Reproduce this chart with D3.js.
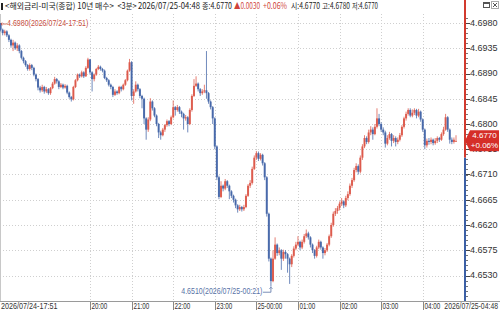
<!DOCTYPE html>
<html>
<head>
<meta charset="utf-8">
<script src="https://cdn.jsdelivr.net/npm/d3@7"></script>
<style>
  body { margin: 0; background: #fff; }
  svg { display: block; }
</style>
</head>
<body>
<svg></svg>
<script>
const width = 500;
const height = 314;

// 3-minute bars, 2026/07/24 17:51 -> 2026/07/25 04:48
const opens = [4.6980,4.6968,4.6962,4.6965,4.6958,4.6950,4.6940,4.6945,4.6935,4.6940,
  4.6930,4.6918,4.6912,4.6905,4.6898,4.6905,4.6900,4.6888,4.6880,4.6865,
  4.6860,4.6866,4.6858,4.6862,4.6855,4.6864,4.6872,4.6880,4.6876,4.6866,
  4.6870,4.6865,4.6868,4.6856,4.6848,4.6844,4.6866,4.6878,4.6888,4.6885,
  4.6892,4.6885,4.6900,4.6915,4.6892,4.6880,4.6888,4.6898,4.6902,4.6898,
  4.6895,4.6882,4.6878,4.6870,4.6866,4.6852,4.6858,4.6855,4.6866,4.6862,
  4.6870,4.6878,4.6895,4.6910,4.6850,4.6858,4.6870,4.6862,4.6850,4.6845,
  4.6810,4.6790,4.6808,4.6840,4.6828,4.6815,4.6800,4.6785,4.6780,4.6790,
  4.6798,4.6805,4.6800,4.6812,4.6830,4.6825,4.6830,4.6822,4.6818,4.6810,
  4.6812,4.6800,4.6825,4.6850,4.6868,4.6872,4.6862,4.6855,4.6858,4.6860,
  4.6855,4.6840,4.6830,4.6810,4.6760,4.6705,4.6670,4.6690,4.6685,4.6698,
  4.6690,4.6680,4.6672,4.6665,4.6655,4.6648,4.6652,4.6648,4.6652,4.6672,
  4.6690,4.6695,4.6720,4.6740,4.6748,4.6738,4.6745,4.6730,4.6705,4.6640,
  4.6560,4.6520,4.6560,4.6585,4.6570,4.6575,4.6560,4.6572,4.6568,4.6560,
  4.6550,4.6565,4.6578,4.6585,4.6590,4.6580,4.6590,4.6600,4.6605,4.6598,
  4.6585,4.6575,4.6565,4.6580,4.6590,4.6580,4.6570,4.6575,4.6585,4.6600,
  4.6620,4.6640,4.6645,4.6650,4.6658,4.6662,4.6655,4.6668,4.6675,4.6690,
  4.6700,4.6718,4.6725,4.6715,4.6740,4.6760,4.6775,4.6768,4.6785,4.6790,
  4.6782,4.6795,4.6810,4.6800,4.6790,4.6785,4.6765,4.6775,4.6782,4.6770,
  4.6775,4.6768,4.6772,4.6780,4.6795,4.6810,4.6818,4.6825,4.6815,4.6820,
  4.6825,4.6815,4.6822,4.6808,4.6790,4.6762,4.6770,4.6768,4.6772,4.6766,
  4.6770,4.6775,4.6772,4.6782,4.6790,4.6812,4.6790,4.6772,4.6768,4.6770];

const highs = [4.6980,4.6970,4.6968,4.6967,4.6960,4.6952,4.6950,4.6947,4.6944,4.6942,
  4.6932,4.6920,4.6914,4.6907,4.6908,4.6907,4.6902,4.6890,4.6882,4.6868,
  4.6870,4.6868,4.6866,4.6864,4.6866,4.6875,4.6884,4.6882,4.6878,4.6873,
  4.6872,4.6871,4.6870,4.6858,4.6850,4.6868,4.6880,4.6890,4.6890,4.6895,
  4.6894,4.6903,4.6918,4.6916,4.6894,4.6890,4.6900,4.6905,4.6904,4.6900,
  4.6897,4.6884,4.6880,4.6872,4.6868,4.6862,4.6860,4.6868,4.6868,4.6872,
  4.6880,4.6897,4.6916,4.6912,4.6862,4.6876,4.6872,4.6864,4.6852,4.6847,
  4.6812,4.6812,4.6846,4.6842,4.6830,4.6817,4.6802,4.6788,4.6793,4.6800,
  4.6808,4.6807,4.6815,4.6842,4.6832,4.6834,4.6832,4.6824,4.6820,4.6816,
  4.6814,4.6828,4.6853,4.6880,4.6885,4.6874,4.6864,4.6862,4.6870,4.6930,
  4.6857,4.6842,4.6832,4.6812,4.6762,4.6708,4.6698,4.6692,4.6702,4.6700,
  4.6692,4.6682,4.6674,4.6667,4.6657,4.6656,4.6654,4.6656,4.6675,4.6693,
  4.6700,4.6724,4.6744,4.6752,4.6751,4.6748,4.6747,4.6732,4.6707,4.6642,
  4.6562,4.6575,4.6598,4.6587,4.6580,4.6577,4.6576,4.6575,4.6570,4.6562,
  4.6568,4.6582,4.6590,4.6600,4.6592,4.6594,4.6604,4.6612,4.6608,4.6600,
  4.6587,4.6577,4.6583,4.6594,4.6592,4.6582,4.6579,4.6588,4.6603,4.6624,
  4.6644,4.6650,4.6654,4.6662,4.6668,4.6664,4.6672,4.6680,4.6694,4.6704,
  4.6722,4.6730,4.6728,4.6744,4.6764,4.6780,4.6778,4.6790,4.6796,4.6794,
  4.6800,4.6828,4.6818,4.6803,4.6794,4.6788,4.6780,4.6786,4.6784,4.6780,
  4.6778,4.6776,4.6784,4.6798,4.6813,4.6822,4.6828,4.6828,4.6826,4.6828,
  4.6827,4.6827,4.6824,4.6810,4.6792,4.6774,4.6775,4.6776,4.6774,4.6775,
  4.6778,4.6777,4.6785,4.6795,4.6818,4.6814,4.6792,4.6776,4.6776,4.6780];

const lows = [4.6965,4.6958,4.6958,4.6955,4.6946,4.6936,4.6930,4.6932,4.6930,4.6926,
  4.6915,4.6908,4.6902,4.6895,4.6895,4.6896,4.6885,4.6876,4.6860,4.6856,
  4.6857,4.6854,4.6855,4.6852,4.6852,4.6862,4.6870,4.6872,4.6862,4.6864,
  4.6862,4.6863,4.6853,4.6845,4.6840,4.6842,4.6864,4.6876,4.6882,4.6883,
  4.6882,4.6884,4.6898,4.6888,4.6858,4.6876,4.6886,4.6896,4.6895,4.6892,
  4.6880,4.6875,4.6867,4.6862,4.6848,4.6850,4.6852,4.6853,4.6858,4.6860,
  4.6868,4.6876,4.6893,4.6842,4.6836,4.6856,4.6858,4.6846,4.6828,4.6800,
  4.6772,4.6786,4.6805,4.6824,4.6812,4.6796,4.6775,4.6772,4.6778,4.6786,
  4.6795,4.6796,4.6798,4.6810,4.6815,4.6822,4.6818,4.6812,4.6790,4.6806,
  4.6785,4.6798,4.6822,4.6848,4.6866,4.6858,4.6850,4.6852,4.6855,4.6845,
  4.6836,4.6826,4.6800,4.6755,4.6700,4.6666,4.6668,4.6680,4.6682,4.6686,
  4.6666,4.6668,4.6660,4.6650,4.6642,4.6645,4.6644,4.6645,4.6650,4.6670,
  4.6686,4.6692,4.6718,4.6736,4.6734,4.6735,4.6726,4.6700,4.6635,4.6555,
  4.6510,4.6518,4.6558,4.6565,4.6566,4.6540,4.6556,4.6560,4.6535,4.6515,
  4.6545,4.6562,4.6575,4.6582,4.6575,4.6577,4.6587,4.6597,4.6594,4.6580,
  4.6570,4.6560,4.6562,4.6577,4.6576,4.6560,4.6566,4.6572,4.6582,4.6597,
  4.6617,4.6636,4.6640,4.6646,4.6654,4.6650,4.6652,4.6664,4.6672,4.6686,
  4.6697,4.6714,4.6710,4.6712,4.6736,4.6757,4.6764,4.6765,4.6780,4.6772,
  4.6780,4.6792,4.6796,4.6786,4.6780,4.6758,4.6762,4.6772,4.6760,4.6766,
  4.6760,4.6764,4.6769,4.6777,4.6792,4.6806,4.6815,4.6812,4.6812,4.6816,
  4.6810,4.6812,4.6804,4.6786,4.6755,4.6758,4.6763,4.6764,4.6762,4.6763,
  4.6766,4.6768,4.6770,4.6779,4.6788,4.6786,4.6765,4.6764,4.6765,4.6770];

const closes = [4.6968,4.6962,4.6965,4.6958,4.6950,4.6940,4.6945,4.6935,4.6940,4.6930,
  4.6918,4.6912,4.6905,4.6898,4.6905,4.6900,4.6888,4.6880,4.6865,4.6860,
  4.6866,4.6858,4.6862,4.6855,4.6864,4.6872,4.6880,4.6876,4.6866,4.6870,
  4.6865,4.6868,4.6856,4.6848,4.6844,4.6866,4.6878,4.6888,4.6885,4.6892,
  4.6885,4.6900,4.6915,4.6892,4.6880,4.6888,4.6898,4.6902,4.6898,4.6895,
  4.6882,4.6878,4.6870,4.6866,4.6852,4.6858,4.6855,4.6866,4.6862,4.6870,
  4.6878,4.6895,4.6910,4.6850,4.6858,4.6870,4.6862,4.6850,4.6845,4.6810,
  4.6790,4.6808,4.6840,4.6828,4.6815,4.6800,4.6785,4.6780,4.6790,4.6798,
  4.6805,4.6800,4.6812,4.6830,4.6825,4.6830,4.6822,4.6818,4.6810,4.6812,
  4.6800,4.6825,4.6850,4.6868,4.6872,4.6862,4.6855,4.6858,4.6860,4.6855,
  4.6840,4.6830,4.6810,4.6760,4.6705,4.6670,4.6690,4.6685,4.6698,4.6690,
  4.6680,4.6672,4.6665,4.6655,4.6648,4.6652,4.6648,4.6652,4.6672,4.6690,
  4.6695,4.6720,4.6740,4.6748,4.6738,4.6745,4.6730,4.6705,4.6640,4.6560,
  4.6520,4.6560,4.6585,4.6570,4.6575,4.6560,4.6572,4.6568,4.6560,4.6550,
  4.6565,4.6578,4.6585,4.6590,4.6580,4.6590,4.6600,4.6605,4.6598,4.6585,
  4.6575,4.6565,4.6580,4.6590,4.6580,4.6570,4.6575,4.6585,4.6600,4.6620,
  4.6640,4.6645,4.6650,4.6658,4.6662,4.6655,4.6668,4.6675,4.6690,4.6700,
  4.6718,4.6725,4.6715,4.6740,4.6760,4.6775,4.6768,4.6785,4.6790,4.6782,
  4.6795,4.6810,4.6800,4.6790,4.6785,4.6765,4.6775,4.6782,4.6770,4.6775,
  4.6768,4.6772,4.6780,4.6795,4.6810,4.6818,4.6825,4.6815,4.6820,4.6825,
  4.6815,4.6822,4.6808,4.6790,4.6762,4.6770,4.6768,4.6772,4.6766,4.6770,
  4.6775,4.6772,4.6782,4.6790,4.6812,4.6790,4.6772,4.6768,4.6772,4.6770];

const prevClose = 4.6740;
const yTicks = [4.6980, 4.6935, 4.6890, 4.6845, 4.6800, 4.6755, 4.6710, 4.6665, 4.6620, 4.6575, 4.6530];
const hourTicks = [
  new Date(2026, 6, 24, 20), new Date(2026, 6, 24, 21), new Date(2026, 6, 24, 22),
  new Date(2026, 6, 24, 23), new Date(2026, 6, 25, 0), new Date(2026, 6, 25, 1),
  new Date(2026, 6, 25, 2), new Date(2026, 6, 25, 3), new Date(2026, 6, 25, 4)];
const hourLabels = ['20:00', '21:00', '22:00', '23:00', '25-00:00', '01:00', '02:00', '03:00', '04:00'];
const titleParts = [
  { text: '<해외금리-미국(종합) 10년 매수>', x: 5, w: 109, red: false },
  { text: '<3분>', x: 117.5, w: 19, red: false },
  { text: '2026/07/25-04:48', x: 138, w: 62, red: false },
  { text: '종:4.6770', x: 202, w: 30, red: false },
  { text: '▲0.0030', x: 234, w: 26, red: true },
  { text: '+0.06%', x: 263, w: 24, red: true },
  { text: '시:4.6770', x: 291, w: 29, red: false },
  { text: '고:4.6780', x: 322, w: 28, red: false },
  { text: '저:4.6770', x: 352, w: 26, red: false }
];

const upColor = '#dc5446';
const downColor = '#4063a6';
const gridColor = '#cfcfcf';
const plotRight = 464;
const plotBottom = 301;
const numFont = '"Liberation Sans", Arial, sans-serif';

const fmtTime = d3.timeFormat('%Y/%m/%d-%H:%M');
const t0 = new Date(2026, 6, 24, 17, 51);
const times = closes.map((d, i) => new Date(+t0 + i * 3 * 60000));

const svg = d3.select('svg')
  .attr('width', width)
  .attr('height', height)
  .style('background', '#fff');

const x = d3.scaleTime()
  .domain([times[0], times[times.length - 1]])
  .range([0.6, 456]);

const y = d3.scaleLinear()
  .domain([4.6530, 4.6980])
  .range([275.5, 23]);

// squeeze text into narrow width like the bitmap font of the original
function narrow(sel, f) {
  sel.each(function () {
    const len = this.getComputedTextLength();
    d3.select(this).attr('textLength', len * f).attr('lengthAdjust', 'spacingAndGlyphs');
  });
}

// grid
svg.append('g')
  .selectAll('line')
  .data(yTicks)
  .join('line')
    .attr('x1', 0).attr('x2', plotRight)
    .attr('y1', d => Math.round(y(d)) + 0.5).attr('y2', d => Math.round(y(d)) + 0.5)
    .attr('stroke', gridColor)
    .attr('stroke-dasharray', '1,2');

svg.append('g')
  .selectAll('line')
  .data(hourTicks)
  .join('line')
    .attr('x1', d => Math.round(x(d)) + 0.5).attr('x2', d => Math.round(x(d)) + 0.5)
    .attr('y1', 14).attr('y2', plotBottom)
    .attr('stroke', gridColor)
    .attr('stroke-dasharray', '1,2');

// left border
svg.append('line')
  .attr('x1', 0.5).attr('x2', 0.5).attr('y1', 14).attr('y2', plotBottom)
  .attr('stroke', '#c8c8c8');

// candles
const idx = d3.range(closes.length);
const colorOf = i => closes[i] >= opens[i] ? upColor : downColor;

svg.append('g')
  .selectAll('line')
  .data(idx)
  .join('line')
    .attr('x1', i => x(times[i])).attr('x2', i => x(times[i]))
    .attr('y1', i => y(highs[i])).attr('y2', i => y(lows[i]))
    .attr('stroke', colorOf)
    .attr('stroke-opacity', 0.75)
    .attr('stroke-width', 1);

svg.append('g')
  .selectAll('rect')
  .data(idx)
  .join('rect')
    .attr('x', i => x(times[i]) - 1)
    .attr('width', 2)
    .attr('y', i => y(Math.max(opens[i], closes[i])))
    .attr('height', i => Math.max(1, Math.abs(y(opens[i]) - y(closes[i]))))
    .attr('fill', colorOf)
    .attr('fill-opacity', 0.9);

// max / min annotations
const iMax = d3.maxIndex(highs);
const iMin = d3.minIndex(lows);
const xMax = x(times[iMax]);
const yMax = y(highs[iMax]);
const xMin = x(times[iMin]);
const yMin = y(lows[iMin]);

svg.append('path')
  .attr('d', `M${xMax + 0.5},${yMax + 1}H${xMax + 6}M${xMax + 1.5},${yMax - 0.5}L${xMax + 0.5},${yMax + 1}L${xMax + 1.5},${yMax + 2.5}`)
  .attr('fill', 'none')
  .attr('stroke', '#c9503f')
  .attr('stroke-width', 0.8);

svg.append('text')
  .attr('x', xMax + 6.5)
  .attr('y', yMax + 1)
  .attr('dominant-baseline', 'middle')
  .attr('font-family', numFont)
  .attr('font-size', 9)
  .attr('fill', '#c9503f')
  .text(`${d3.format('.4f')(highs[iMax])}(${fmtTime(times[iMax])})`)
  .call(narrow, 0.78);

svg.append('text')
  .attr('x', xMin - 8.5)
  .attr('y', yMin + 5)
  .attr('text-anchor', 'end')
  .attr('dominant-baseline', 'middle')
  .attr('font-family', numFont)
  .attr('font-size', 9)
  .attr('fill', '#5872a6')
  .text(`${d3.format('.4f')(lows[iMin])}(${fmtTime(times[iMin])})`)
  .call(narrow, 0.78);

svg.append('path')
  .attr('d', `M${xMin - 8},${yMin + 5.5}H${xMin}V${yMin + 0.5}M${xMin - 1.5},${yMin + 2}L${xMin},${yMin + 0.5}L${xMin + 1.5},${yMin + 2}`)
  .attr('fill', 'none')
  .attr('stroke', '#5872a6')
  .attr('stroke-width', 0.8);

// right axis
svg.append('line')
  .attr('x1', 465).attr('x2', 465).attr('y1', 0).attr('y2', y(prevClose))
  .attr('stroke', '#d23a2e').attr('stroke-width', 2);
svg.append('line')
  .attr('x1', 465).attr('x2', 465).attr('y1', y(prevClose)).attr('y2', plotBottom)
  .attr('stroke', '#3b5fa5').attr('stroke-width', 2);

const minorTicks = d3.range(4.6530 - 0.0045, 4.6980 + 0.0045, 0.0009);
svg.append('g')
  .selectAll('line')
  .data(minorTicks.filter(d => y(d) > 14 && y(d) < plotBottom))
  .join('line')
    .attr('x1', 466).attr('x2', 468)
    .attr('y1', d => Math.round(y(d)) + 0.5).attr('y2', d => Math.round(y(d)) + 0.5)
    .attr('stroke', '#777');

const yAxis = svg.append('g');
yAxis.selectAll('line')
  .data(yTicks)
  .join('line')
    .attr('x1', 466).attr('x2', 470)
    .attr('y1', d => Math.round(y(d)) + 0.5).attr('y2', d => Math.round(y(d)) + 0.5)
    .attr('stroke', '#444');
yAxis.selectAll('text')
  .data(yTicks)
  .join('text')
    .attr('x', 470)
    .attr('y', d => y(d) + 0.5)
    .attr('dominant-baseline', 'middle')
    .attr('font-family', numFont)
    .attr('font-size', 9)
    .attr('fill', '#333')
    .text(d => d3.format('.4f')(d));

// current price tag
const last = closes.length - 1;
const yLast = y(closes[last]);
svg.append('path')
  .attr('d', `M465,${yLast}L470,${yLast - 10.5}H499V${yLast + 10.5}H470Z`)
  .attr('fill', '#d52e28');
svg.append('text')
  .attr('x', 484.5).attr('y', yLast - 4.5)
  .attr('text-anchor', 'middle').attr('dominant-baseline', 'middle')
  .attr('font-family', numFont).attr('font-size', 8).attr('fill', '#fff')
  .text(d3.format('.4f')(closes[last]));
svg.append('text')
  .attr('x', 484.5).attr('y', yLast + 5)
  .attr('text-anchor', 'middle').attr('dominant-baseline', 'middle')
  .attr('font-family', numFont).attr('font-size', 8).attr('fill', '#fff')
  .text('+' + d3.format('.2f')((closes[last] - prevClose) / prevClose * 100) + '%');

// bottom time axis
svg.append('line')
  .attr('x1', 0).attr('x2', width).attr('y1', plotBottom + 0.5).attr('y2', plotBottom + 0.5)
  .attr('stroke', '#9a9a9a');

const xAxis = svg.append('g');
xAxis.selectAll('line')
  .data(hourTicks)
  .join('line')
    .attr('x1', d => Math.round(x(d)) + 0.5).attr('x2', d => Math.round(x(d)) + 0.5)
    .attr('y1', plotBottom + 1).attr('y2', plotBottom + 9)
    .attr('stroke', '#888');
xAxis.selectAll('text')
  .data(hourLabels)
  .join('text')
    .attr('x', (d, i) => Math.round(x(hourTicks[i])) + 1.5)
    .attr('y', 306.5)
    .attr('dominant-baseline', 'middle')
    .attr('font-family', numFont)
    .attr('font-size', 9)
    .attr('fill', '#333')
    .text(d => d)
    .call(narrow, 0.7);

svg.append('text')
  .attr('x', 1).attr('y', 306.5)
  .attr('dominant-baseline', 'middle')
  .attr('font-family', numFont).attr('font-size', 9).attr('fill', '#333')
  .text(fmtTime(times[0]))
  .call(narrow, 0.8);

svg.append('text')
  .attr('x', 498).attr('y', 306.5)
  .attr('text-anchor', 'end')
  .attr('dominant-baseline', 'middle')
  .attr('font-family', numFont).attr('font-size', 9).attr('fill', '#333')
  .text(fmtTime(times[last]))
  .call(narrow, 0.76);

// title
svg.append('rect')
  .attr('x', 1).attr('y', 3).attr('width', 2).attr('height', 7)
  .attr('fill', '#222');

svg.append('g')
  .selectAll('text')
  .data(titleParts)
  .join('text')
    .attr('x', d => d.x)
    .attr('y', 7)
    .attr('dominant-baseline', 'middle')
    .attr('font-family', '"Noto Sans CJK KR", sans-serif')
    .attr('font-size', 8.5)
    .attr('fill', d => d.red ? '#d0433a' : '#222')
    .attr('textLength', d => d.w)
    .attr('lengthAdjust', 'spacingAndGlyphs')
    .text(d => d.text);

// window icons
svg.append('rect')
  .attr('x', 483.5).attr('y', 2.5).attr('width', 6).attr('height', 5)
  .attr('fill', 'none').attr('stroke', '#555');
svg.append('rect')
  .attr('x', 483.5).attr('y', 2.5).attr('width', 6).attr('height', 1.5)
  .attr('fill', '#555');
svg.append('rect')
  .attr('x', 491.5).attr('y', 1.5).attr('width', 7).attr('height', 7)
  .attr('fill', 'none').attr('stroke', '#aaa');
svg.append('path')
  .attr('d', 'M493,3L497,7M497,3L493,7')
  .attr('stroke', '#555');
</script>
</body>
</html>
